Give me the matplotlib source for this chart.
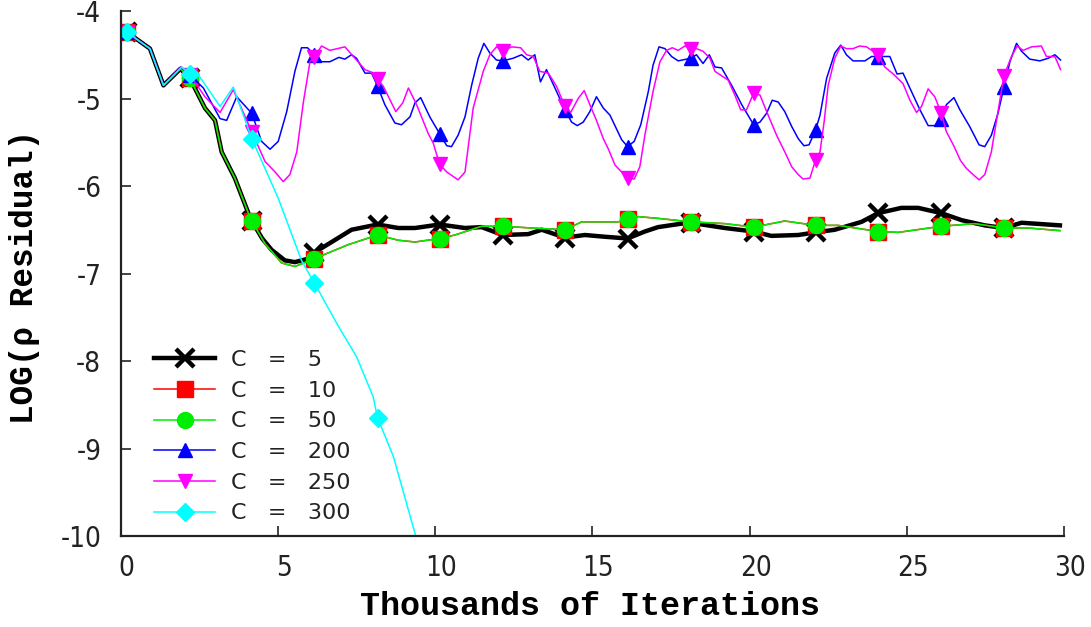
import matplotlib
matplotlib.use("Agg")
import matplotlib.pyplot as plt
from matplotlib.transforms import ScaledTranslation

plt.rcParams["axes.unicode_minus"] = False

# marker positions (thousands of iterations), every 2000 iterations
marker_x = [0.19, 2.2, 4.17, 6.16, 8.17, 10.14, 12.15, 14.13, 16.12, 18.13,
            20.13, 22.1, 24.09, 26.1, 28.09]

# C = 5
x5 = [0.19, 0.93, 1.36, 1.9, 2.2, 2.68, 3.0, 3.21, 3.63, 4.06,
      4.17, 4.5, 4.8, 5.22, 5.54, 5.97, 6.16, 6.71, 7.34, 8.17,
      8.83, 9.36, 10.14, 10.95, 11.48, 12.15, 12.96, 13.39, 14.13, 14.76,
      15.4, 16.12, 16.67, 17.09, 17.84, 18.13, 19.21, 20.13, 20.69, 21.55,
      22.1, 22.71, 23.56, 24.09, 24.83, 25.36, 26.1, 26.74, 27.48, 28.09,
      28.65, 29.87]
y5 = [-4.24, -4.43, -4.85, -4.66, -4.77, -5.11, -5.25, -5.61, -5.91, -6.31,
      -6.40, -6.60, -6.73, -6.85, -6.87, -6.83, -6.76, -6.64, -6.50, -6.44,
      -6.48, -6.48, -6.44, -6.48, -6.47, -6.56, -6.55, -6.50, -6.59, -6.56,
      -6.58, -6.60, -6.52, -6.47, -6.43, -6.42, -6.48, -6.52, -6.57, -6.56,
      -6.53, -6.50, -6.41, -6.31, -6.25, -6.25, -6.31, -6.39, -6.45, -6.48,
      -6.42, -6.45]

# C = 10 and C = 50 lie on top of each other
x10 = [0.19, 0.93, 1.36, 1.9, 2.2, 2.68, 3.0, 3.21, 3.63, 4.06,
       4.17, 4.59, 5.12, 5.54, 6.16, 7.24, 8.17, 8.83, 9.36, 10.14,
       10.63, 11.48, 12.15, 13.07, 14.13, 14.66, 15.08, 15.82, 16.12, 16.46,
       17.09, 18.13, 19.21, 20.13, 21.12, 22.1, 22.82, 24.09, 24.73, 26.1,
       27.16, 28.09, 28.86, 29.87]
y10 = [-4.24, -4.43, -4.85, -4.66, -4.77, -5.11, -5.25, -5.61, -5.91, -6.31,
       -6.40, -6.66, -6.88, -6.92, -6.83, -6.67, -6.56, -6.62, -6.64, -6.60,
       -6.56, -6.46, -6.46, -6.48, -6.50, -6.41, -6.41, -6.41, -6.38, -6.35,
       -6.37, -6.41, -6.43, -6.47, -6.40, -6.45, -6.45, -6.52, -6.53, -6.46,
       -6.43, -6.48, -6.48, -6.51]
x50 = list(x10)
y50 = list(y10)

# C = 200
x200 = [0.19, 0.93, 1.36, 1.92, 2.2, 2.63, 3.16, 3.37, 3.69, 4.17,
        4.48, 4.75, 5.01, 5.28, 5.54, 5.75, 5.94, 6.16, 6.39, 6.65,
        6.94, 7.13, 7.34, 7.5, 7.77, 7.98, 8.17, 8.4, 8.72, 8.93,
        9.2, 9.36, 9.54, 9.83, 10.14, 10.37, 10.52, 10.73, 10.95, 11.16,
        11.37, 11.55, 11.74, 11.95, 12.15, 12.48, 12.75, 12.96, 13.17, 13.35,
        13.54, 13.81, 14.13, 14.34, 14.52, 14.71, 14.92, 15.13, 15.35, 15.56,
        15.93, 16.12, 16.33, 16.54, 16.78, 16.93, 17.12, 17.31, 17.52, 17.73,
        18.13, 18.31, 18.52, 18.72, 18.9, 19.11, 19.43, 19.75, 20.13, 20.33,
        20.54, 20.72, 20.91, 21.12, 21.34, 21.55, 21.73, 21.89, 22.1, 22.24,
        22.45, 22.71, 22.9, 23.08, 23.29, 23.67, 23.88, 24.09, 24.46, 24.69,
        24.88, 25.2, 25.42, 25.68, 25.89, 26.1, 26.26, 26.5, 26.69, 27.0,
        27.3, 27.48, 27.69, 27.9, 28.09, 28.28, 28.49, 28.65, 28.91, 29.23,
        29.5, 29.71, 29.89]
y200 = [-4.24, -4.43, -4.85, -4.64, -4.73, -4.88, -5.23, -5.25, -4.98, -5.17,
        -5.49, -5.58, -5.49, -5.15, -4.69, -4.42, -4.42, -4.50, -4.58, -4.58,
        -4.53, -4.55, -4.50, -4.54, -4.71, -4.71, -4.86, -5.07, -5.28, -5.30,
        -5.21, -5.05, -4.99, -5.21, -5.40, -5.54, -5.55, -5.42, -5.21, -4.85,
        -4.54, -4.37, -4.48, -4.56, -4.57, -4.54, -4.50, -4.56, -4.50, -4.81,
        -4.67, -4.88, -5.13, -5.27, -5.31, -5.27, -5.15, -4.98, -5.11, -5.19,
        -5.47, -5.55, -5.49, -5.30, -4.92, -4.62, -4.41, -4.43, -4.52, -4.57,
        -4.54, -4.50, -4.60, -4.50, -4.64, -4.65, -4.85, -5.07, -5.30, -5.27,
        -5.17, -5.02, -5.04, -5.15, -5.32, -5.46, -5.54, -5.53, -5.36, -5.19,
        -4.77, -4.48, -4.39, -4.50, -4.57, -4.57, -4.52, -4.52, -4.52, -4.72,
        -4.71, -4.96, -5.13, -5.31, -5.31, -5.23, -5.07, -4.99, -5.13, -5.32,
        -5.53, -5.55, -5.42, -5.17, -4.87, -4.58, -4.37, -4.46, -4.55, -4.57,
        -4.54, -4.50, -4.56]

# C = 250
x250 = [0.19, 0.93, 1.36, 1.92, 2.2, 2.68, 3.16, 3.58, 4.17, 4.59,
        4.91, 5.17, 5.38, 5.6, 5.81, 6.02, 6.16, 6.39, 6.65, 7.13,
        7.45, 7.77, 7.98, 8.17, 8.35, 8.75, 8.97, 9.15, 9.41, 9.78,
        9.94, 10.14, 10.37, 10.73, 10.95, 11.21, 11.53, 11.74, 11.95, 12.15,
        12.43, 12.72, 12.91, 13.12, 13.33, 13.6, 13.86, 14.13, 14.31, 14.55,
        14.74, 14.92, 15.13, 15.35, 15.5, 15.72, 15.93, 16.12, 16.33, 16.51,
        16.67, 16.93, 17.15, 17.36, 17.54, 17.73, 17.94, 18.13, 18.31, 18.52,
        18.74, 18.9, 19.32, 19.53, 19.72, 19.9, 20.13, 20.33, 20.59, 20.86,
        21.12, 21.34, 21.55, 21.7, 21.92, 22.1, 22.24, 22.37, 22.5, 22.71,
        22.9, 23.08, 23.29, 23.5, 23.72, 24.09, 24.3, 24.57, 24.88, 25.1,
        25.31, 25.47, 25.68, 25.89, 26.1, 26.26, 26.48, 26.71, 26.9, 27.11,
        27.3, 27.48, 27.69, 27.9, 28.09, 28.33, 28.51, 28.7, 28.97, 29.28,
        29.44, 29.71, 29.89]
y250 = [-4.24, -4.43, -4.85, -4.64, -4.73, -4.98, -5.16, -4.90, -5.38, -5.72,
        -5.84, -5.95, -5.87, -5.61, -5.04, -4.58, -4.52, -4.40, -4.45, -4.41,
        -4.54, -4.67, -4.70, -4.78, -4.86, -5.15, -5.05, -4.88, -5.07, -5.40,
        -5.51, -5.75, -5.84, -5.93, -5.84, -5.11, -4.69, -4.50, -4.41, -4.46,
        -4.41, -4.42, -4.50, -4.52, -4.69, -4.71, -4.86, -5.09, -5.16, -5.00,
        -4.91, -5.07, -5.25, -5.46, -5.57, -5.76, -5.84, -5.91, -5.92, -5.78,
        -5.42, -4.92, -4.58, -4.45, -4.42, -4.45, -4.40, -4.43, -4.43, -4.46,
        -4.54, -4.69, -4.79, -4.96, -5.13, -5.13, -4.94, -4.96, -5.19, -5.42,
        -5.61, -5.78, -5.87, -5.92, -5.91, -5.70, -5.61, -5.27, -4.85, -4.54,
        -4.40, -4.43, -4.43, -4.40, -4.41, -4.50, -4.64, -4.72, -4.83, -5.02,
        -5.16, -5.09, -4.89, -4.98, -5.17, -5.38, -5.53, -5.71, -5.80, -5.87,
        -5.93, -5.87, -5.61, -5.15, -4.74, -4.52, -4.40, -4.45, -4.41, -4.40,
        -4.52, -4.52, -4.67]

# C = 300
x300 = [0.19, 0.93, 1.36, 1.94, 2.2, 2.47, 3.16, 3.58, 4.17, 5.01,
        5.75, 6.16, 6.81, 7.0, 7.5, 8.03, 8.17, 8.67, 9.36, 9.7]
y300 = [-4.24, -4.43, -4.85, -4.64, -4.72, -4.73, -5.09, -4.87, -5.46, -6.14,
        -6.85, -7.11, -7.53, -7.65, -7.95, -8.41, -8.65, -9.09, -9.97, -10.4]

labels = ["C   =   5", "C   =   10", "C   =   50", "C   =   200", "C   =   250", "C   =   300"]


def marks(xs):
    return [i for i, v in enumerate(xs) if v in marker_x]


W, H = 1091, 627
fig = plt.figure(figsize=(W / 100, H / 100), dpi=100)
ax = fig.add_axes([120.7 / W, 1 - 536 / H, (1064 - 120.7) / W, 525 / H])

series = [
    (x5, y5, dict(color="black", lw=3.2, marker="x", ms=13, mew=3.2)),
    (x10, y10, dict(color="#ff0000", lw=1.1, marker="s", ms=12)),
    (x50, y50, dict(color="#00ee00", lw=1.1, marker="o", ms=11.5)),
    (x200, y200, dict(color="#0000ff", lw=1.1, marker="^", ms=10.5)),
    (x250, y250, dict(color="#ff00ff", lw=1.1, marker="v", ms=10.5)),
    (x300, y300, dict(color="#00ffff", lw=1.1, marker="D", ms=9)),
]
handles = []
for (xs, ys, st), lab in zip(series, labels):
    h, = ax.plot(xs, ys, markevery=marks(xs), mec=st["color"], label=lab, **st)
    handles.append(h)

ax.set_xlim(0, 30)
ax.set_ylim(-10, -4)
ax.set_xticks(range(0, 31, 5))
ax.set_yticks(range(-10, -3))

for s in ["top", "right"]:
    ax.spines[s].set_visible(False)
for s in ["left", "bottom"]:
    ax.spines[s].set_linewidth(1.6)
    ax.spines[s].set_color("#222222")

ax.tick_params(direction="in", length=7, width=1.2, color="#222222")
ax.tick_params(axis="x", pad=13)
ax.tick_params(axis="y", pad=14)
for lab in ax.get_xticklabels() + ax.get_yticklabels():
    lab.set_family("DejaVu Sans")
    lab.set_stretch("condensed")
    lab.set_fontsize(20)
    lab.set_color("#222222")
for lab in ax.get_xticklabels():
    lab.set_transform(lab.get_transform() + ScaledTranslation(0.06, 0, fig.dpi_scale_trans))

ax.set_xlabel("Thousands of Iterations", family="Liberation Mono",
              fontweight="bold", fontsize=24)
ax.set_ylabel("LOG(ρ Residual)", family="Liberation Mono",
              fontweight="bold", fontsize=23.5)
ax.xaxis.set_label_coords(0.4975, -0.104)
ax.yaxis.set_label_coords(-0.086, 0.493)

leg = ax.legend(handles, labels, loc="upper left", bbox_to_anchor=(0.0353, 0.354),
                frameon=False, fontsize=16, handlelength=2.75, handletextpad=0.7,
                labelspacing=0.48, borderpad=0, borderaxespad=0)
for t in leg.get_texts():
    t.set_color("#222222")

fig.savefig("out.png", dpi=100)
